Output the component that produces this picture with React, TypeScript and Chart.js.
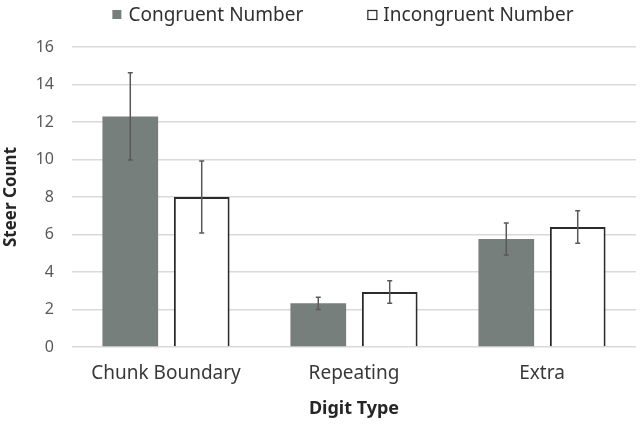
import React, { useEffect, useRef } from "react";
import { Chart, registerables } from "chart.js";

Chart.register(...registerables);

const categories = ["Chunk Boundary", "Repeating", "Extra"];
const seriesNames = ["Congruent Number", "Incongruent Number"];
const congruentValues = [12.3, 2.33, 5.76];
const congruentErrors = [2.33, 0.33, 0.85];
const incongruentValues = [8.0, 2.93, 6.4];
const incongruentErrors = [1.92, 0.6, 0.87];
const yTicks = [0, 2, 4, 6, 8, 10, 12, 14, 16];

const FONT = "'Noto Sans', 'DejaVu Sans', sans-serif";

const errorBarPlugin = {
  id: "errorBars",
  afterDatasetsDraw(chart: any) {
    const ctx = chart.ctx;
    const yScale = chart.scales.y;
    const errs = [congruentErrors, incongruentErrors];
    chart.data.datasets.forEach((ds: any, i: number) => {
      const meta = chart.getDatasetMeta(i);
      meta.data.forEach((bar: any, j: number) => {
        const v = ds.data[j];
        const e = errs[i][j];
        const x = bar.x;
        const yTop = yScale.getPixelForValue(v + e);
        const yBot = yScale.getPixelForValue(v - e);
        ctx.save();
        ctx.strokeStyle = "#595959";
        ctx.lineWidth = 1.5;
        ctx.beginPath();
        ctx.moveTo(x, yTop);
        ctx.lineTo(x, yBot);
        ctx.moveTo(x - 2.5, yTop);
        ctx.lineTo(x + 2.5, yTop);
        ctx.moveTo(x - 2.5, yBot);
        ctx.lineTo(x + 2.5, yBot);
        ctx.stroke();
        ctx.restore();
      });
    });
  },
};

const legendPlugin = {
  id: "customLegend",
  afterDraw(chart: any) {
    const ctx = chart.ctx;
    ctx.save();
    ctx.font = `19px ${FONT}`;
    const box = 9;
    const boxGap = 7;
    const itemGap = 64;
    const widths = seriesNames.map((n) => ctx.measureText(n).width);
    const total = widths.reduce((a, w) => a + box + boxGap + w, 0) + itemGap;
    let x = 343 - total / 2;
    const styles = chart.data.datasets;
    seriesNames.forEach((name, i) => {
      const ds = styles[i];
      if (i === 0) {
        ctx.fillStyle = ds.backgroundColor;
        ctx.fillRect(x, 10, box, box);
      } else {
        ctx.fillStyle = "#ffffff";
        ctx.fillRect(x, 10, box + 1, box + 1);
        ctx.strokeStyle = "#262626";
        ctx.lineWidth = 1.2;
        ctx.strokeRect(x + 0.5, 10.5, box, box);
      }
      ctx.fillStyle = "#303030";
      ctx.textBaseline = "alphabetic";
      ctx.textAlign = "left";
      ctx.fillText(name, x + box + boxGap, 21);
      x += box + boxGap + widths[i] + itemGap;
    });
    ctx.restore();
  },
};

export default function App() {
  const ref = useRef<HTMLCanvasElement>(null);
  useEffect(() => {
    if (!ref.current) return;
    const chart = new Chart(ref.current, {
      type: "bar",
      data: {
        labels: categories,
        datasets: [
          {
            label: seriesNames[0],
            data: congruentValues,
            backgroundColor: "#767f7b",
            borderWidth: 0,
            categoryPercentage: 0.76,
            barPercentage: 0.78,
          },
          {
            label: seriesNames[1],
            data: incongruentValues,
            backgroundColor: "#ffffff",
            borderColor: "#2b2b2b",
            borderWidth: 2,
            categoryPercentage: 0.76,
            barPercentage: 0.78,
          },
        ],
      },
      options: {
        responsive: false,
        animation: false,
        layout: { padding: { top: 47, right: 6, left: 0, bottom: 0 } },
        plugins: {
          legend: { display: false },
          tooltip: { enabled: false },
        },
        scales: {
          x: {
            grid: { display: false, drawTicks: false },
            border: { display: false },
            ticks: {
              padding: 15,
              color: "#383838",
              font: { family: FONT, size: 19 },
            },
            title: {
              display: true,
              text: "Digit Type",
              color: "#262626",
              font: { family: FONT, size: 18, weight: "bold" },
              padding: { top: 0, bottom: 12 },
            },
            afterFit(scale: any) {
              scale.height = 85;
            },
          },
          y: {
            min: 0,
            max: 16,
            afterBuildTicks(scale: any) {
              scale.ticks = yTicks.map((v) => ({ value: v }));
            },
            grid: { color: "#d9d9d9", lineWidth: 1.5, drawTicks: false },
            border: { display: false },
            ticks: {
              padding: 18,
              color: "#595959",
              font: { family: FONT, size: 16 },
            },
            title: {
              display: true,
              text: "Steer Count",
              color: "#262626",
              font: { family: FONT, size: 17, weight: "bold" },
              padding: { top: 1, bottom: 0 },
            },
            afterFit(scale: any) {
              scale.width = 72;
            },
          },
        },
      },
      plugins: [errorBarPlugin, legendPlugin],
    });
    return () => chart.destroy();
  }, []);
  return (
    <div style={{ position: "fixed", left: 0, top: 0, width: 642, height: 432, background: "#fff" }}>
      <canvas ref={ref} width={642} height={432} style={{ display: "block" }} />
    </div>
  );
}
